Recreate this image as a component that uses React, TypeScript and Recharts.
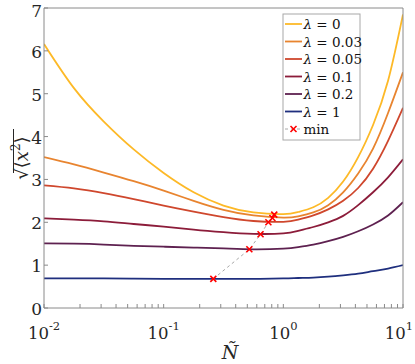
import React from 'react';
import { LineChart, Line, XAxis, YAxis } from 'recharts';

// ---- data ----
const nValues = [
  0.01, 0.0178, 0.0316, 0.0562, 0.1, 0.178, 0.316, 0.562,
  1, 1.33, 1.78, 2.37, 3.16, 4.22, 5.62, 7.5, 10,
];
const lam0 = [6.16, 5.13, 4.35, 3.70, 3.15, 2.70, 2.39, 2.23, 2.19, 2.24, 2.35, 2.57, 2.95, 3.52, 4.27, 5.30, 6.85];
const lam003 = [3.52, 3.35, 3.16, 2.96, 2.74, 2.50, 2.29, 2.16, 2.11, 2.14, 2.23, 2.40, 2.70, 3.14, 3.72, 4.55, 5.50];
const lam005 = [2.86, 2.79, 2.68, 2.54, 2.39, 2.25, 2.12, 2.03, 2.01, 2.06, 2.16, 2.30, 2.50, 2.80, 3.25, 3.90, 4.67];
const lam01 = [2.09, 2.06, 2.02, 1.96, 1.90, 1.83, 1.77, 1.73, 1.74, 1.80, 1.89, 2.00, 2.15, 2.40, 2.70, 3.05, 3.47];
const lam02 = [1.51, 1.50, 1.48, 1.45, 1.43, 1.41, 1.39, 1.37, 1.385, 1.42, 1.48, 1.56, 1.66, 1.79, 1.95, 2.16, 2.47];
const lam1 = [0.69, 0.69, 0.69, 0.685, 0.68, 0.68, 0.68, 0.68, 0.69, 0.70, 0.71, 0.73, 0.76, 0.80, 0.86, 0.92, 1.0];

const minN = [0.26, 0.52, 0.645, 0.75, 0.81, 0.84];
const minY = [0.68, 1.37, 1.72, 2.0, 2.1, 2.18];

const seriesNames = ['λ = 0', 'λ = 0.03', 'λ = 0.05', 'λ = 0.1', 'λ = 0.2', 'λ = 1'];
const seriesValues = [lam0, lam003, lam005, lam01, lam02, lam1];
const seriesColors = ['#FDB927', '#E8842F', '#CF472D', '#8C1C3A', '#5E2150', '#1F2F7E'];

const xTicks = [
  0.01, 0.02, 0.03, 0.04, 0.05, 0.06, 0.07, 0.08, 0.09,
  0.1, 0.2, 0.3, 0.4, 0.5, 0.6, 0.7, 0.8, 0.9,
  1, 2, 3, 4, 5, 6, 7, 8, 9, 10,
];
const xMajor: Record<string, string> = { '0.01': '-2', '0.1': '-1', '1': '0', '10': '1' };
const yTicks = [0, 1, 2, 3, 4, 5, 6, 7];

// ---- layout ----
const W = 415;
const H = 364;
const LEFT = 44;
const RIGHT = 403;
const TOP = 8;
const BOTTOM = 308;
const AXIS = '#8a8a8a';
const FONT = 'DejaVu Serif';

const seriesData = seriesValues.map((vals) => nValues.map((x, i) => ({ x, y: vals[i] })));
const minData = minN.map((x, i) => ({ x, y: minY[i] }));

const BottomTick = (props: any) => {
  const x = props.x;
  const v = props.payload.value;
  const exp = xMajor[String(v)];
  const tx = exp === '1' ? Math.min(x, 399) : x;
  return (
    <g>
      <line x1={x} x2={x} y1={BOTTOM} y2={BOTTOM - 4} stroke={AXIS} strokeWidth={1} />
      {exp !== undefined && (
        <text x={tx} y={339} textAnchor="middle" fontFamily={FONT} fontSize={16.5} fill="#262626">
          <tspan>10</tspan>
          <tspan dy={-9} fontSize={11.5}>{exp}</tspan>
        </text>
      )}
    </g>
  );
};

const TopTick = (props: any) => {
  const x = props.x;
  return <line x1={x} x2={x} y1={TOP} y2={TOP + 4} stroke={AXIS} strokeWidth={1} />;
};

const LeftTick = (props: any) => {
  const y = props.y;
  const v = props.payload.value;
  return (
    <g>
      <line x1={LEFT} x2={LEFT + 4} y1={y} y2={y} stroke={AXIS} strokeWidth={1} />
      <text x={LEFT - 2} y={Math.max(y + 7, 16.5)} textAnchor="end" fontFamily={FONT} fontSize={17} fill="#262626">
        {v}
      </text>
    </g>
  );
};

const RightTick = (props: any) => {
  const y = props.y;
  return <line x1={RIGHT} x2={RIGHT - 4} y1={y} y2={y} stroke={AXIS} strokeWidth={1} />;
};

const Cross = (props: any) => {
  const { cx, cy } = props;
  if (cx == null || cy == null) return null;
  const s = 3;
  return (
    <g>
      <line x1={cx - s} y1={cy - s} x2={cx + s} y2={cy + s} stroke="#FF0000" strokeWidth={1.6} />
      <line x1={cx - s} y1={cy + s} x2={cx + s} y2={cy - s} stroke="#FF0000" strokeWidth={1.6} />
    </g>
  );
};

const legendRowY = [24, 41.5, 59, 76.5, 94, 111.5, 129];

export default function App() {
  return (
    <div style={{ position: 'absolute', left: 0, top: 0, width: W, height: H, background: '#fff' }}>
      <LineChart
        width={W}
        height={H}
        margin={{ top: TOP - 2, right: W - RIGHT - 2, bottom: H - BOTTOM - 40, left: LEFT - 30 }}
      >
        <XAxis
          dataKey="x"
          type="number"
          scale="log"
          domain={[0.01, 10]}
          allowDataOverflow
          ticks={xTicks}
          interval={0}
          height={40}
          tickLine={false}
          axisLine={{ stroke: AXIS }}
          tick={<BottomTick />}
        />
        <XAxis
          xAxisId="top"
          orientation="top"
          type="number"
          scale="log"
          domain={[0.01, 10]}
          allowDataOverflow
          ticks={xTicks}
          interval={0}
          height={2}
          tickLine={false}
          axisLine={{ stroke: AXIS }}
          tick={<TopTick />}
        />
        <YAxis
          type="number"
          domain={[0, 7]}
          ticks={yTicks}
          interval={0}
          width={30}
          tickLine={false}
          axisLine={{ stroke: AXIS }}
          tick={<LeftTick />}
        />
        <YAxis
          yAxisId="right"
          orientation="right"
          type="number"
          domain={[0, 7]}
          ticks={yTicks}
          interval={0}
          width={2}
          tickLine={false}
          axisLine={{ stroke: AXIS }}
          tick={<RightTick />}
        />
        {seriesData.map((d, i) => (
          <Line
            key={seriesNames[i]}
            data={d}
            dataKey="y"
            type="natural"
            stroke={seriesColors[i]}
            strokeWidth={1.8}
            dot={false}
            isAnimationActive={false}
          />
        ))}
        <Line
          data={minData}
          dataKey="y"
          type="linear"
          stroke="#a8a8a8"
          strokeWidth={1}
          strokeDasharray="3 3"
          dot={<Cross />}
          isAnimationActive={false}
        />
      </LineChart>
      <svg
        width={W}
        height={H}
        style={{ position: 'absolute', left: 0, top: 0, pointerEvents: 'none' }}
      >
        {/* legend */}
        <rect x={283} y={14} width={77} height={126} fill="#fff" stroke="#a8a8a8" strokeWidth={1} />
        {seriesNames.map((name, i) => (
          <g key={name}>
            <line x1={285} x2={302} y1={legendRowY[i]} y2={legendRowY[i]} stroke={seriesColors[i]} strokeWidth={1.8} />
            <text x={303.5} y={legendRowY[i] + 5} fontFamily={FONT} fontSize={13.5} fill="#111">
              <tspan fontStyle="italic">λ</tspan>
              <tspan>{name.slice(1)}</tspan>
            </text>
          </g>
        ))}
        <line x1={285} x2={302} y1={legendRowY[6]} y2={legendRowY[6]} stroke="#a8a8a8" strokeWidth={1} strokeDasharray="3 3" />
        <line x1={290.5} y1={legendRowY[6] - 3} x2={296.5} y2={legendRowY[6] + 3} stroke="#FF0000" strokeWidth={1.6} />
        <line x1={290.5} y1={legendRowY[6] + 3} x2={296.5} y2={legendRowY[6] - 3} stroke="#FF0000" strokeWidth={1.6} />
        <text x={303.5} y={legendRowY[6] + 5} fontFamily={FONT} fontSize={13.5} fill="#111">min</text>

        {/* y label */}
        <g transform="translate(28,158) rotate(-90)">
          <text x={0} y={0} textAnchor="middle" fontFamily={FONT} fontSize={18} fill="#262626">
            <tspan>√⟨</tspan>
            <tspan fontStyle="italic">x</tspan>
            <tspan dy={-8} fontSize={12}>2</tspan>
            <tspan dy={8}>⟩</tspan>
          </text>
          <line x1={-15} x2={29} y1={-14.5} y2={-14.5} stroke="#262626" strokeWidth={1} />
        </g>

        {/* x label */}
        <text x={230} y={359} textAnchor="middle" fontFamily={FONT} fontSize={19} fontStyle="italic" fill="#262626">
          Ñ
        </text>
      </svg>
    </div>
  );
}
